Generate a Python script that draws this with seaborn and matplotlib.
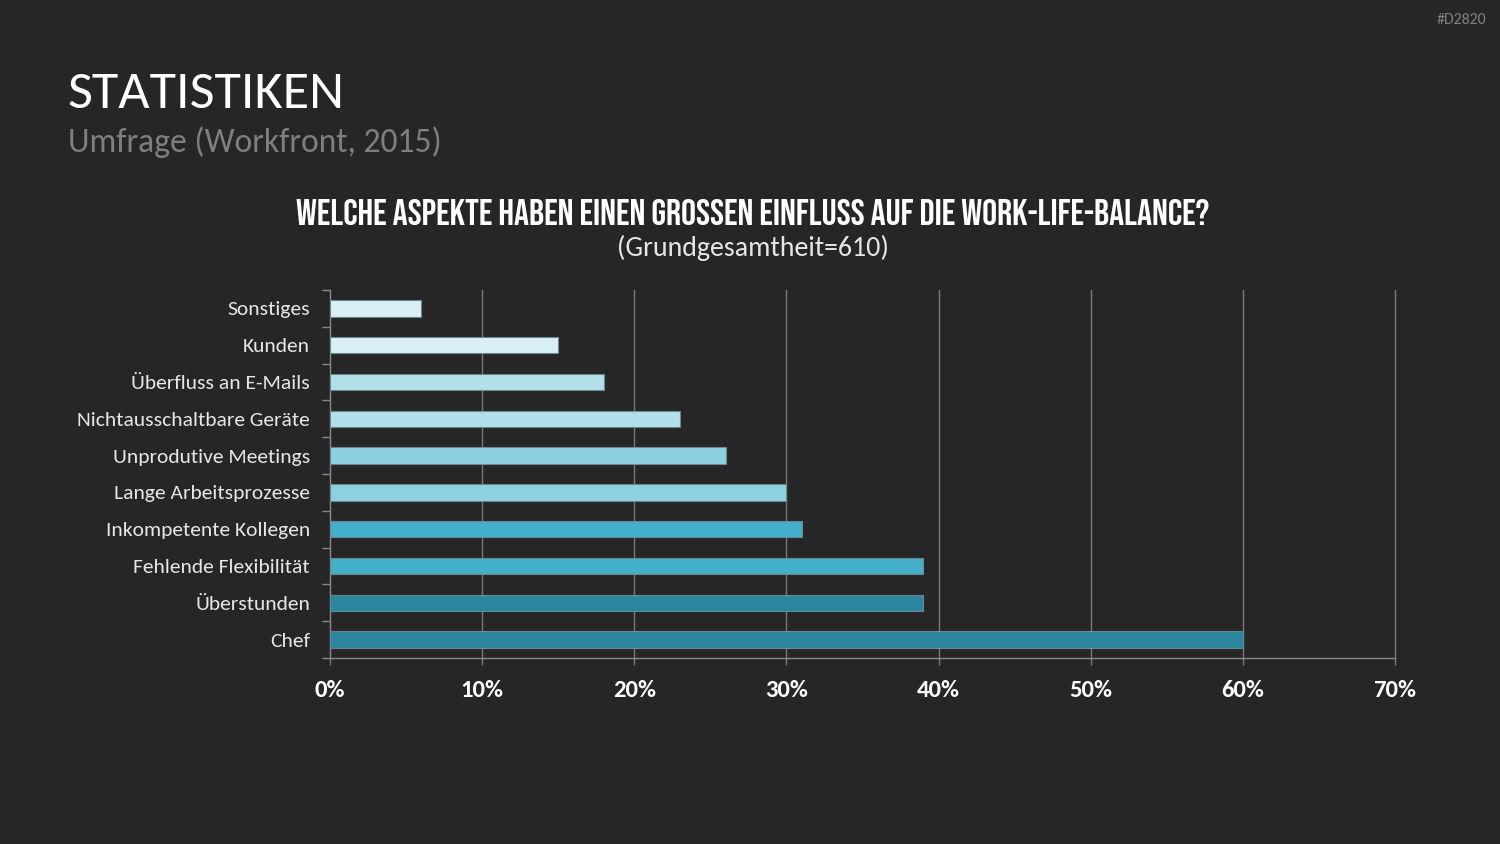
import matplotlib
matplotlib.use("Agg")
import matplotlib.pyplot as plt
import seaborn as sns
import numpy as np
import pandas as pd
from matplotlib.ticker import FixedLocator

categories = ["Sonstiges", "Kunden", "Überfluss an E-Mails", "Nichtausschaltbare Geräte",
              "Unprodutive Meetings", "Lange Arbeitsprozesse", "Inkompetente Kollegen",
              "Fehlende Flexibilität", "Überstunden", "Chef"]
values = [6, 15, 18, 23, 26, 30, 31, 39, 39, 60]
bar_colors = ["#daeef5", "#daeef5", "#b3e0e8", "#b3e0e8", "#8dd0e0", "#8dd0e0",
              "#43afcb", "#43afcb", "#2b879f", "#2b879f"]
x_ticks = [0, 10, 20, 30, 40, 50, 60, 70]
x_labels = ["0%", "10%", "20%", "30%", "40%", "50%", "60%", "70%"]

BG = "#262626"
sns.set_theme(style="dark")
plt.rcParams["font.family"] = ["Carlito", "DejaVu Sans"]

fig = plt.figure(figsize=(15, 8.44), dpi=100, facecolor=BG)
ax = fig.add_axes([0.22, 0.2204, 0.71, 0.436])
ax.set_facecolor(BG)

df = pd.DataFrame({"cat": categories, "val": values})
sns.barplot(data=df, x="val", y="cat", hue="cat", palette=bar_colors, legend=False,
            saturation=1, width=0.45, edgecolor="#6a8890", linewidth=0.8, ax=ax, zorder=3)

ax.set_xlim(0, 70)
ax.set_ylim(9.5, -0.5)
ax.set_xlabel("")
ax.set_ylabel("")
ax.set_xticks(x_ticks)
ax.set_xticklabels(x_labels, fontsize=16, fontweight="bold", color="white")
ax.grid(False)
for xv in x_ticks[1:]:
    ax.axvline(xv, color="#7a7a7a", lw=1.0, zorder=1, clip_on=False)

for s in ["top", "right"]:
    ax.spines[s].set_visible(False)
for s in ["left", "bottom"]:
    ax.spines[s].set_color("#8a8a8a")
    ax.spines[s].set_linewidth(1.0)

ax.tick_params(axis="x", which="major", direction="out", length=5, color="#7a7a7a",
               width=1, pad=11, bottom=True)
ax.tick_params(axis="y", which="major", length=0, pad=14.4, labelcolor="#e6e6e6")
ax.yaxis.set_minor_locator(FixedLocator(np.arange(-0.5, 10, 1.0)))
ax.tick_params(axis="y", which="minor", direction="out", length=6, color="#8a8a8a", width=1, left=True)
for lbl in ax.get_yticklabels():
    lbl.set_fontsize(15)
    lbl.set_color("#e6e6e6")

t1 = fig.text(0.0447, 0.872, "STATISTIKEN", fontsize=40, color="white", ha="left", va="baseline")
t2 = fig.text(0.0453, 0.820, "Umfrage (Workfront, 2015)", fontsize=24, color="#7f7f7f",
              ha="left", va="baseline")
t3 = fig.text(0.502, 0.7334,
              "WELCHE ASPEKTE HABEN EINEN GROSSEN EINFLUSS AUF DIE WORK-LIFE-BALANCE?",
              fontsize=28, color="white", ha="center", va="baseline",
              family=["Bebas Neue", "DejaVu Sans"])
t4 = fig.text(0.502, 0.6967, "(Grundgesamtheit=610)", fontsize=20, color="#e6e6e6",
              ha="center", va="baseline")
t5 = fig.text(0.991, 0.976, "#D2820", fontsize=11, color="#808080", ha="right", va="center")

fig.canvas.draw()
r = fig.canvas.get_renderer()
for t, target in [(t1, 276.0), (t2, 375.0), (t3, 917.0), (t4, 271.0), (t5, 50.0)]:
    w = t.get_window_extent(r).width
    t.set_fontsize(t.get_fontsize() * target / w)
ylbls = ax.get_yticklabels()
w = ylbls[3].get_window_extent(r).width
ysize = 15 * 233.0 / w
for lbl in ylbls:
    lbl.set_fontsize(ysize)
xl = ax.get_xticklabels()
w = xl[-1].get_window_extent(r).width
xsize = 16 * 43.0 / w
for lbl in xl:
    lbl.set_fontsize(xsize)

fig.savefig("out.png", dpi=100, facecolor=BG)
